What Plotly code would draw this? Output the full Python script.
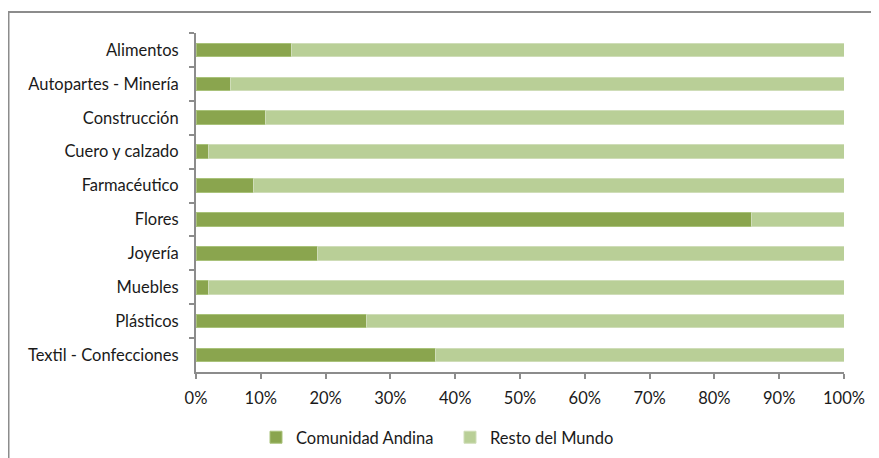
import plotly.graph_objects as go

categorias = ["Alimentos", "Autopartes - Minería", "Construcción", "Cuero y calzado",
              "Farmacéutico", "Flores", "Joyería", "Muebles", "Plásticos",
              "Textil - Confecciones"]
comunidad_andina = [14.7, 5.4, 10.8, 2.0, 8.8, 85.7, 18.7, 2.0, 26.3, 37.0]
resto_mundo = [round(100 - v, 1) for v in comunidad_andina]
ticks_x = [0, 10, 20, 30, 40, 50, 60, 70, 80, 90, 100]

# la página tiene 8px de margen en el body, por eso la figura es algo menor
W, H = 871, 450
L, R, T, B = 188, 35, 25, 86
PW, PH = W - L - R, H - T - B


def px_x(x):
    return (x - L) / PW


def px_y(y):
    return (H - B - y) / PH


fig = go.Figure()
fig.add_trace(go.Bar(
    y=categorias, x=comunidad_andina, orientation="h", name="Comunidad Andina",
    marker=dict(color="#8AA54E", line=dict(color="#A9C27A", width=1)),
))
fig.add_trace(go.Bar(
    y=categorias, x=resto_mundo, orientation="h", name="Resto del Mundo",
    marker=dict(color="#B9CF97", line=dict(color="#CFDDB8", width=1)),
))

fig.update_layout(
    width=W, height=H,
    margin=dict(l=L, r=R, t=T, b=B, autoexpand=False),
    barmode="stack", bargap=0.6,
    plot_bgcolor="white", paper_bgcolor="white",
    font=dict(family="Lato, Open Sans, sans-serif", size=16.5, color="#1a1a1a"),
    showlegend=True,
    legend=dict(orientation="h", x=px_x(248), xanchor="left",
                y=px_y(412), yanchor="top",
                font=dict(size=16.5), traceorder="normal", itemwidth=30,
                entrywidth=149, entrywidthmode="pixels",
                bgcolor="rgba(0,0,0,0)"),
    xaxis=dict(range=[0, 100], tickvals=ticks_x,
               ticktext=[f"{t}%" for t in ticks_x],
               showgrid=False, zeroline=False, showline=True,
               linecolor="#8c8c8c", linewidth=2, ticks="outside", ticklen=5,
               tickcolor="#8c8c8c", tickwidth=2, ticklabelstandoff=5),
    yaxis=dict(autorange="reversed", showline=True, linecolor="#8c8c8c",
               linewidth=2, ticks="outside", ticklen=5, tickcolor="#8c8c8c",
               tickwidth=2, tickson="boundaries", showgrid=False,
               ticklabelstandoff=12),
)

# marco exterior del gráfico
fig.add_shape(type="rect", xref="paper", yref="paper",
              x0=px_x(0.5), x1=px_x(W + 10),
              y0=px_y(H + 10), y1=px_y(4),
              line=dict(color="#8c8c8c", width=2), fillcolor="rgba(0,0,0,0)",
              layer="below")

fig.write_html("out.html")
